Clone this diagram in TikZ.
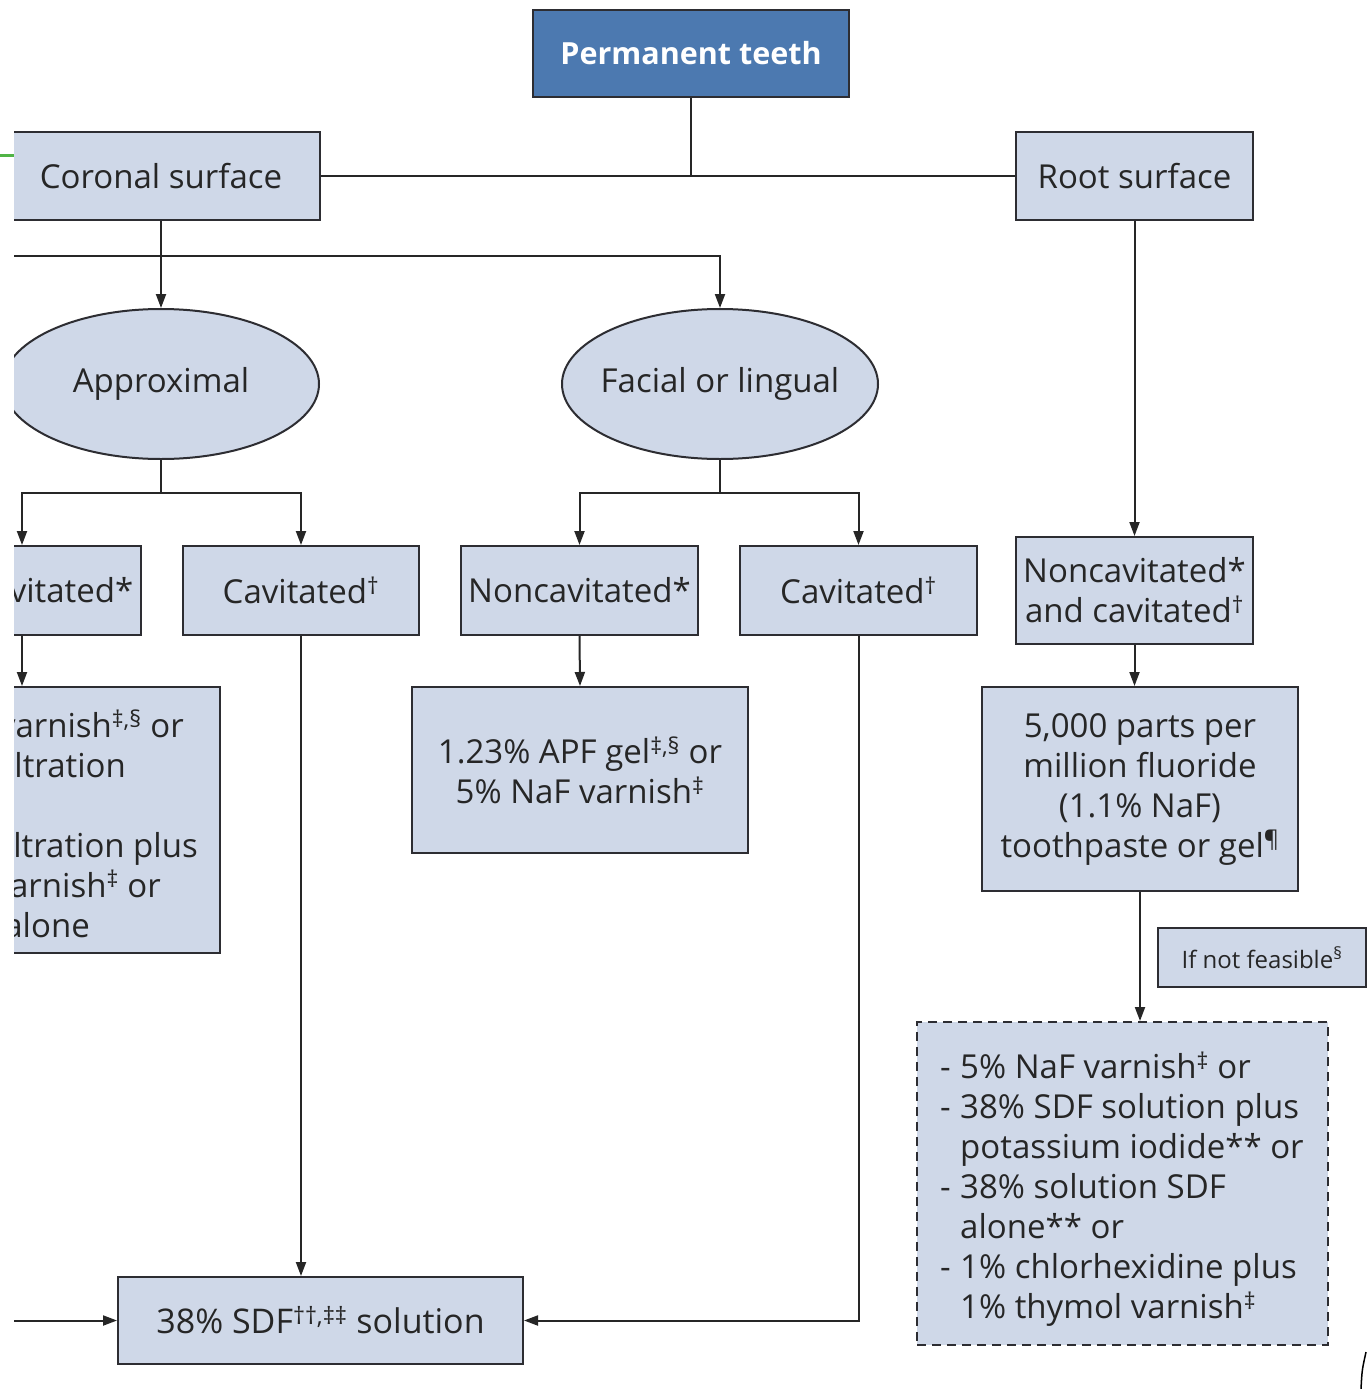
\documentclass[tikz,border=0pt]{standalone}
\usepackage{fontspec}
\setmainfont{Open Sans}
\usetikzlibrary{arrows.meta,shapes.geometric}
\definecolor{boxfill}{RGB}{207,216,232}
\definecolor{topfill}{RGB}{76,121,176}
\definecolor{edgec}{RGB}{45,45,50}
\definecolor{greenline}{RGB}{80,180,70}
\newcommand\fsz{\fontsize{33}{40}\selectfont}
\newcommand\sps[1]{\textsuperscript{#1}}
\begin{document}
\begin{tikzpicture}[x=1pt,y=-1pt,
  box/.style={draw=edgec, line width=2pt, fill=boxfill, inner sep=0pt, align=center, font=\fsz, text=black!85},
  ell/.style={ellipse, draw=edgec, line width=2pt, fill=boxfill, inner sep=0pt, minimum width=316pt, minimum height=150pt, font=\fsz, text=black!85},
  conn/.style={draw=black!85, line width=2pt},
  arr/.style={conn, -{Triangle[length=14pt,width=10pt]}},
  lline/.style={font=\fsz, text=black!85, inner sep=0pt, anchor=base east}]
\useasboundingbox (0,0) rectangle (1368,1389);
\fill[white] (0,0) rectangle (1368,1389);
\begin{scope}
\clip (14,0) rectangle (1368,1389);
% nodes
\node[box, fill=topfill, minimum width=316pt, minimum height=87pt, text=white, font=\fontsize{30.5}{36}\selectfont\bfseries] (top) at (691,53.5) {Permanent teeth};
\node[box, minimum width=318pt, minimum height=88pt] (coronal) at (161,176) {Coronal surface};
\node[box, minimum width=237pt, minimum height=88pt] (root) at (1134.5,176) {Root surface};
\node[ell] (appr) at (161,384) {\makebox[0pt]{Approximal}};
\node[ell] (facial) at (720,384) {\makebox[0pt]{Facial or lingual}};
\node[box, minimum width=237pt, minimum height=89pt] (ncL) at (22,590.5) {Noncavitated*};
\node[box, minimum width=236pt, minimum height=89pt] (cavL) at (301,590.5) {Cavitated\sps{†}};
\node[box, minimum width=237pt, minimum height=89pt] (ncM) at (579.5,590.5) {Noncavitated*};
\node[box, minimum width=237pt, minimum height=89pt] (cavM) at (858.5,590.5) {Cavitated\sps{†}};
\node[box, minimum width=237pt, minimum height=107pt] (ncR) at (1134.5,590.5) {Noncavitated*\\and cavitated\sps{†}};
\node[box, minimum width=336pt, minimum height=266pt] (treatL) at (52,820) {};
\node[lline] (tl1) at (184,737) {- 5\% NaF varnish\sps{‡,§} or};
\node[lline] (tl2) at (126,777) {- Resin infiltration};
\node[lline] (tl4) at (198,857) {- Resin infiltration plus};
\node[lline] (tl5) at (161,897) {5\% NaF varnish\sps{‡} or};
\node[lline] (tl6) at (90,937) {- Sealants alone};
\node[box, minimum width=336pt, minimum height=166pt] (apf) at (580,770) {1.23\% APF gel\sps{‡,§} or\\5\% NaF varnish\sps{‡}};
\node[box, minimum width=316pt, minimum height=204pt] (ppm) at (1140,789) {\rule{0pt}{6pt}5,000 parts per\\million fluoride\\(1.1\% NaF)\\toothpaste or gel\sps{¶}};
\node[box, minimum width=208pt, minimum height=59pt, font=\fontsize{24}{28}\selectfont] (ifnot) at (1262,957.5) {If not feasible\sps{§}};
\node[box, dash pattern=on 9pt off 6pt, minimum width=411pt, minimum height=323pt] (alt) at (1122.5,1183.5) {};
\node[font=\fsz, text=black!85, inner sep=0pt, align=left, anchor=west] (alttext) at (940,1189)
 {\makebox[20pt][l]{-}5\% NaF varnish\sps{‡} or\\
  \makebox[20pt][l]{-}38\% SDF solution plus\\
  \hspace*{20pt}potassium iodide** or\\
  \makebox[20pt][l]{-}38\% solution SDF\\
  \hspace*{20pt}alone** or\\
  \makebox[20pt][l]{-}1\% chlorhexidine plus\\
  \hspace*{20pt}1\% thymol varnish\sps{‡}};
\node[box, minimum width=405pt, minimum height=87pt, font=\fontsize{34}{40}\selectfont] (sdf) at (320.5,1320.5) {38\% SDF\sps{††,‡‡} solution};
% coordinates
\coordinate (lft) at (0,256);
\coordinate (lin) at (0,1320.5);
\coordinate (abr) at (161,493);
\coordinate (fbr) at (720,493);
% connectors
\draw[conn] (coronal.east) -- (root.west);
\draw[conn] (top.south) -- (top.south |- coronal.east);
\draw[arr] (lft) -| (facial.north);
\draw[arr] (coronal.south) -- (appr.north);
\draw[arr] (root.south) -- (ncR.north);
\draw[conn] (appr.south) -- (abr);
\draw[arr] (abr) -| (ncL.north);
\draw[arr] (abr) -| (cavL.north);
\draw[conn] (facial.south) -- (fbr);
\draw[arr] (fbr) -| (ncM.north);
\draw[arr] (fbr) -| (cavM.north);
\draw[arr] (ncL.south) -- (ncL.south |- treatL.north);
\draw[arr] (ncM.south) -- (apf.north);
\draw[arr] (cavL.south) -- (cavL.south |- sdf.north);
\draw[arr] (cavM.south) |- (sdf.east);
\draw[arr] (lin) -- (sdf.west);
\draw[arr] (ncR.south) -- (ncR.south |- ppm.north);
\draw[arr] (ppm.south) -- (ppm.south |- alt.north);
\end{scope}
\draw[greenline, line width=3pt] (0,155) -- (14,155);
\draw[black, line width=1.5pt] (1366,1352) .. controls (1362,1370) .. (1361,1389);
\end{tikzpicture}
\end{document}
